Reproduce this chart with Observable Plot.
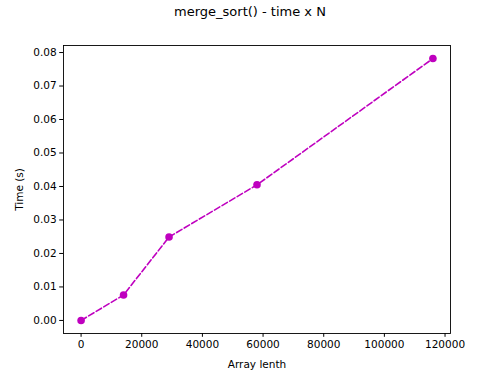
<!DOCTYPE html>
<html>
<head>
<meta charset="utf-8">
<script src="https://cdn.jsdelivr.net/npm/d3@7"></script>
<script src="https://cdn.jsdelivr.net/npm/@observablehq/plot@0.6"></script>
<style>
  html, body { margin: 0; padding: 0; background: #fff; }
  #wrap { position: relative; width: 500px; height: 375px; font-family: "DejaVu Sans", sans-serif; }
  #title { position: absolute; top: 4px; left: 0; width: 500px; text-align: center; font-size: 13px; color: #000; }
</style>
</head>
<body>
<div id="wrap"><div id="title"></div></div>
<script>
const titleText = "merge_sort() - time x N";
const xLabel = "Array lenth";
const yLabel = "Time (s)";
const arrayLengths = [0, 14000, 29000, 58000, 116000];
const times = [0.0, 0.0076, 0.0249, 0.0405, 0.0782];
const xTicks = [0, 20000, 40000, 60000, 80000, 100000, 120000];
const yTicks = [0.00, 0.01, 0.02, 0.03, 0.04, 0.05, 0.06, 0.07, 0.08];

const data = arrayLengths.map((n, i) => ({n, t: times[i]}));
const color = "#bf00bf";

document.getElementById("title").textContent = titleText;

const chart = Plot.plot({
  width: 500,
  height: 375,
  marginLeft: 63,
  marginRight: 50,
  marginTop: 45,
  marginBottom: 42,
  style: {fontFamily: "DejaVu Sans, sans-serif", fontSize: "10.5px", color: "#000", background: "transparent"},
  x: {domain: [-5800, 121800], ticks: xTicks, tickFormat: d => String(d), label: xLabel, labelAnchor: "center", labelArrow: "none", labelOffset: 34, tickSize: 3.8, tickPadding: 3},
  y: {domain: [-0.0039, 0.0821], ticks: yTicks, tickFormat: d3.format(".2f"), label: yLabel, labelAnchor: "center", labelArrow: "none", labelOffset: 48, tickSize: 3.8, tickPadding: 3},
  marks: [
    Plot.frame({stroke: "#000", strokeWidth: 0.9}),
    Plot.line(data, {x: "n", y: "t", stroke: color, strokeWidth: 1.6, strokeDasharray: "6.2,2.6"}),
    Plot.dot(data, {x: "n", y: "t", fill: color, r: 3.8, stroke: "none"})
  ]
});
chart.style.position = "absolute";
chart.style.top = "0";
chart.style.left = "0";
document.getElementById("wrap").appendChild(chart);
</script>
</body>
</html>
